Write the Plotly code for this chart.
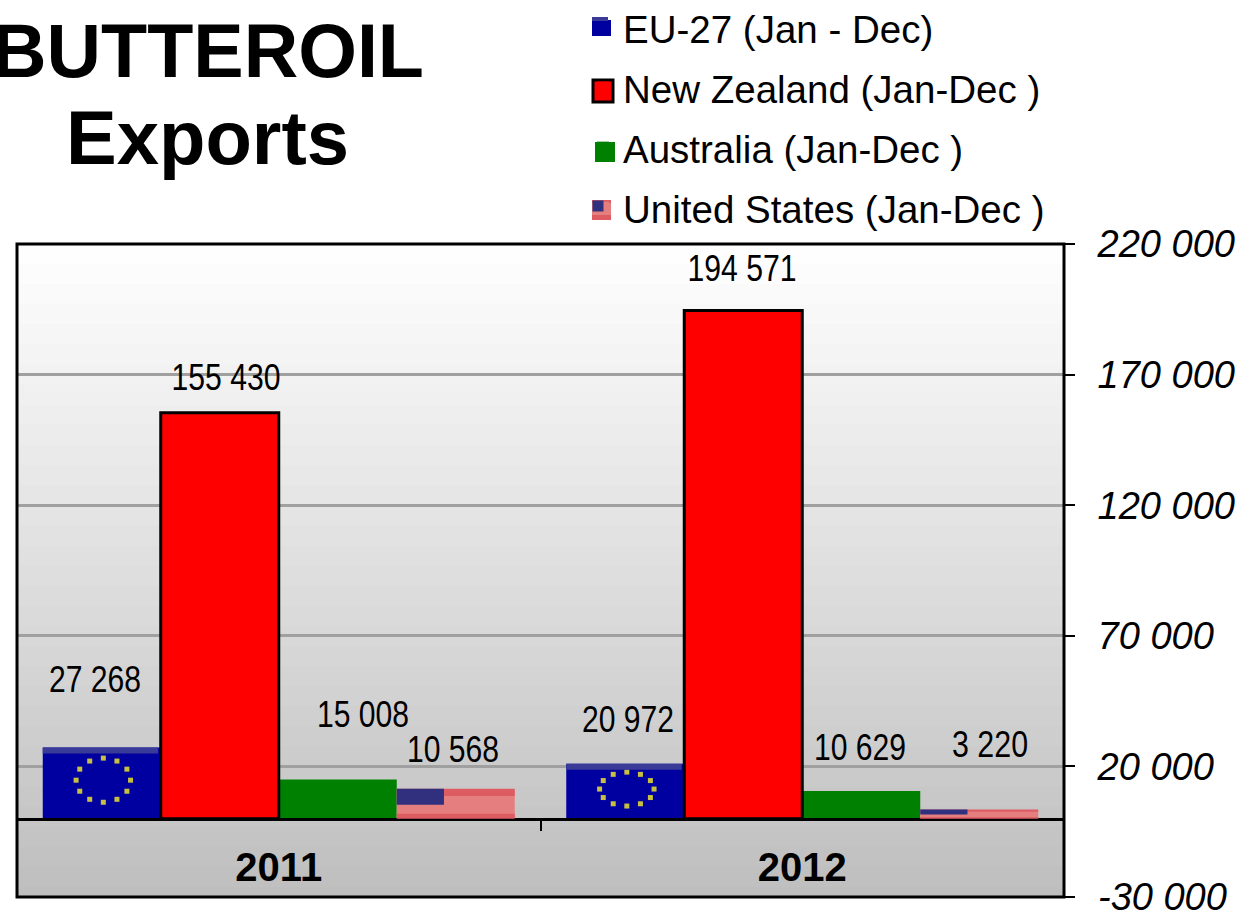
import math
import plotly.graph_objects as go

years = ["2011", "2012"]
eu_27 = [27268, 20972]
new_zealand = [155430, 194571]
australia = [15008, 10629]
united_states = [10568, 3220]
series_names = ["EU-27 (Jan - Dec)", "New Zealand (Jan-Dec )", "Australia (Jan-Dec )", "United States (Jan-Dec )"]
y_ticks = [-30000, 20000, 70000, 120000, 170000, 220000]

W, H = 1239, 910
L, R, T, B = 17, 1064, 244, 897
YMIN, YMAX = -30000, 220000
GAP = 0.0984
BW = (1 - GAP) / 4
SANS = "Liberation Sans, Arial, sans-serif"


def thousands(v):
    return f"{v:,}".replace(",", " ")


def centre(cat, idx):
    return cat + (idx - 1.5) * BW


fig = go.Figure()
all_series = [eu_27, new_zealand, australia, united_states]
fills = ["#0000A0", "#FF0000", "#008000", "#E57F7F"]
xs = [0, 1]
for name, vals, fill in zip(series_names, all_series, fills):
    fig.add_trace(go.Bar(x=xs, y=vals, name=name, legendgroup=name,
                         marker=dict(color=fill, line=dict(width=0)),
                         hoverinfo="x+y"))

# EU flag stars, scaled with each bar
sx, sy = [], []
for cat, v in enumerate(eu_27):
    for k in range(12):
        a = 2 * math.pi * k / 12
        sx.append(centre(cat, 0) + 0.003 + 0.052 * math.cos(a))
        sy.append(v * 0.54 + v * 0.31 * math.sin(a))
fig.add_trace(go.Scatter(x=sx, y=sy, mode="markers", showlegend=False, hoverinfo="skip",
                         marker=dict(symbol="square", size=5, color="#C8C040")))

shapes = []
# vertical background gradient: each band runs to the bottom, so no seams
N = 65
for i in range(N):
    g = round(255 - (255 - 190) * (i + 0.5) / N)
    shapes.append(dict(type="rect", layer="below", xref="x domain", yref="y domain",
                       x0=0, x1=1, y0=1 - i / N, y1=0,
                       line=dict(width=0), fillcolor=f"rgb({g},{g},{g})"))

# flag details and outlines on the bars
for cat in range(2):
    eu_c = centre(cat, 0)
    v = eu_27[cat]
    shapes.append(dict(type="rect", xref="x", yref="y", x0=eu_c - BW / 2, x1=eu_c + BW / 2 - 0.005,
                       y0=v - 2300, y1=v, line=dict(width=0), fillcolor="#3A3A98", layer="above"))
    nz_c = centre(cat, 1)
    shapes.append(dict(type="rect", xref="x", yref="y", x0=nz_c - BW / 2, x1=nz_c + BW / 2,
                       y0=0, y1=new_zealand[cat], line=dict(color="#000000", width=3),
                       fillcolor="rgba(0,0,0,0)", layer="above"))
    us_c = centre(cat, 3)
    v = united_states[cat]
    x0 = us_c - BW / 2
    for a, b in ((0.82, 1.08), (0.0, 0.18)):
        shapes.append(dict(type="rect", xref="x", yref="y", x0=x0, x1=x0 + BW, y0=v * a, y1=v * b,
                           line=dict(width=0), fillcolor="#DC5C62", layer="above"))
    shapes.append(dict(type="rect", xref="x", yref="y", x0=x0, x1=x0 + 0.4 * BW, y0=v * 0.5, y1=v * 1.08,
                       line=dict(width=0), fillcolor="#30307F", layer="above"))
# frame
shapes.append(dict(type="rect", xref="x domain", yref="y domain", x0=0, x1=1, y0=0, y1=1,
                   line=dict(color="#000000", width=3), fillcolor="rgba(0,0,0,0)", layer="above"))


def paper_rect(x0, x1, y0, y1, color, line=None):
    return dict(type="rect", xref="paper", yref="paper", x0=x0 / W, x1=x1 / W, y0=1 - y0 / H, y1=1 - y1 / H,
                fillcolor=color, line=dict(color=line or color, width=3 if line else 0), layer="above")


# enlarged legend swatches behind the legend's own
shapes += [paper_rect(592, 611, 20, 36, "#0000A0"), paper_rect(592, 608, 17, 21, "#3A3A98"),
           paper_rect(593, 613, 80, 102, "#FF0000", "#000000"),
           paper_rect(595, 615, 142, 162, "#008000"),
           paper_rect(592, 611, 200, 220, "#E57F7F"), paper_rect(592, 611, 215, 220, "#DC5C62"),
           paper_rect(592, 611, 200, 203, "#DC5C62")]

# hand-placed value labels: (x shift, y shift) in px from the bar top
offsets = [[(-7, 68), (3, 44)], [(6, 35), (-1, 42)], [(25, 65), (-1, 43)], [(-3, 42), (11, 66)]]
annotations = []
for i, vals in enumerate(all_series):
    for cat, v in enumerate(vals):
        dx, dy = offsets[i][cat]
        annotations.append(dict(x=centre(cat, i), y=v, xref="x", yref="y", text=thousands(v), showarrow=False,
                                xanchor="center", yanchor="middle", xshift=dx, yshift=dy,
                                font=dict(family=SANS, size=36, color="#000000")))
annotations.append(dict(x=207 / W, y=1 - 137 / H, xref="paper", yref="paper", text="<b>Exports</b>", showarrow=False,
                        xanchor="center", yanchor="middle", font=dict(family=SANS, size=76, color="#000000")))
annotations.append(dict(x=1096 / W, y=1 - 897 / H, xref="paper", yref="paper", text=thousands(y_ticks[0]),
                        showarrow=False, xanchor="left", yanchor="middle",
                        font=dict(family=SANS, size=38, color="#000000", style="italic")))
# canton of the legend's United States swatch
annotations.append(dict(x=592 / W, y=1 - 200 / H, xref="paper", yref="paper", text=" ", showarrow=False,
                        xanchor="left", yanchor="top", width=10, height=10, borderpad=0, bgcolor="#30307F",
                        font=dict(size=1)))

fig.update_layout(
    width=W, height=H, autosize=False,
    margin=dict(l=0, r=0, t=0, b=0, autoexpand=False),
    paper_bgcolor="#FFFFFF", plot_bgcolor="#FFFFFF",
    barmode="group", bargap=GAP, bargroupgap=0,
    title=dict(text="<b>BUTTEROIL</b>", x=208 / W, xanchor="center", y=1 - 51 / H, yanchor="middle",
               yref="container", font=dict(family=SANS, size=75.5, color="#000000")),
    xaxis=dict(domain=[L / W, R / W], range=[-0.5, 1.5], anchor="free", position=1 - 818.6 / H,
               tickmode="array", tickvals=xs, ticktext=years, ticks="", ticklen=0, ticklabelstandoff=12,
               tickfont=dict(family=SANS, size=40, color="#000000", weight="bold"),
               showgrid=False, zeroline=False, showline=True, linecolor="#000000", linewidth=3,
               minor=dict(tickmode="array", tickvals=[-0.5, 0.5, 1.5], ticks="outside", ticklen=10,
                          tickwidth=2, tickcolor="#000000", showgrid=False)),
    yaxis=dict(domain=[1 - B / H, 1 - T / H], range=[YMIN, YMAX], side="right", anchor="x",
               tickmode="array", tickvals=y_ticks, ticktext=[""] + [thousands(t) for t in y_ticks[1:]],
               ticks="outside", ticklen=10, tickwidth=2, tickcolor="#000000",
               tickfont=dict(family=SANS, size=38, color="#000000", style="italic"),
               ticklabelstandoff=15,
               showgrid=True, gridcolor="#A0A0A0", gridwidth=3, zeroline=False,
               showline=False),
    legend=dict(x=583 / W, xanchor="left", y=1 + 4 / H, yanchor="top", bgcolor="rgba(0,0,0,0)",
                font=dict(family=SANS, size=38.5, color="#000000"), tracegroupgap=7,
                traceorder="grouped", itemsizing="constant"),
    showlegend=True,
    shapes=shapes, annotations=annotations,
)
# the reference's value labels use a condensed face: squeeze the glyphs to its widths
post = """
document.body.style.margin='0';
document.querySelectorAll('.annotation-text').forEach(function(t){
  var s=t.textContent;
  if(/^\\d+ \\d+$/.test(s)){
    t.setAttribute('textLength', (s.length===7?109:s.length===6?92:76));
    t.setAttribute('lengthAdjust','spacingAndGlyphs');
  }
});
"""
fig.write_html("out.html", config={"displayModeBar": False}, post_script=post)
